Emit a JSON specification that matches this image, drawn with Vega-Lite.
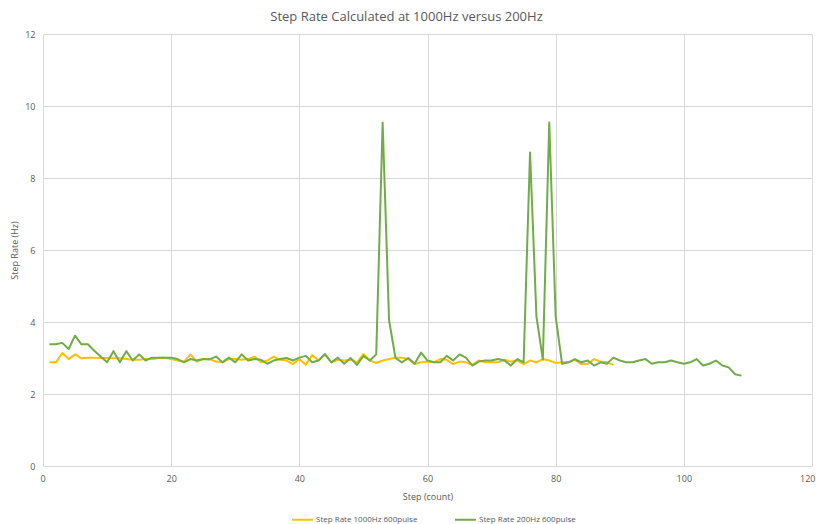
{
  "$schema": "https://vega.github.io/schema/vega-lite/v6.json",
  "width": 769,
  "height": 432,
  "autosize": {"type": "none"},
  "padding": {"left": 43, "top": 34, "right": 4, "bottom": 58},
  "background": "white",
  "title": {
    "text": "Step Rate Calculated at 1000Hz versus 200Hz",
    "font": "Open Sans",
    "fontSize": 13,
    "fontWeight": "normal",
    "color": "#595959",
    "anchor": "middle",
    "dx": -21,
    "offset": 6
  },
  "data": {
    "values": [
      {"step":1,"Step Rate 1000Hz 600pulse":2.88,"Step Rate 200Hz 600pulse":3.38},
      {"step":2,"Step Rate 1000Hz 600pulse":2.88,"Step Rate 200Hz 600pulse":3.38},
      {"step":3,"Step Rate 1000Hz 600pulse":3.14,"Step Rate 200Hz 600pulse":3.42},
      {"step":4,"Step Rate 1000Hz 600pulse":2.97,"Step Rate 200Hz 600pulse":3.25},
      {"step":5,"Step Rate 1000Hz 600pulse":3.1,"Step Rate 200Hz 600pulse":3.62},
      {"step":6,"Step Rate 1000Hz 600pulse":2.99,"Step Rate 200Hz 600pulse":3.38},
      {"step":7,"Step Rate 1000Hz 600pulse":3.01,"Step Rate 200Hz 600pulse":3.38},
      {"step":8,"Step Rate 1000Hz 600pulse":3.01,"Step Rate 200Hz 600pulse":3.2},
      {"step":9,"Step Rate 1000Hz 600pulse":3.0,"Step Rate 200Hz 600pulse":3.04},
      {"step":10,"Step Rate 1000Hz 600pulse":3.0,"Step Rate 200Hz 600pulse":2.88},
      {"step":11,"Step Rate 1000Hz 600pulse":2.99,"Step Rate 200Hz 600pulse":3.19},
      {"step":12,"Step Rate 1000Hz 600pulse":2.99,"Step Rate 200Hz 600pulse":2.88},
      {"step":13,"Step Rate 1000Hz 600pulse":2.97,"Step Rate 200Hz 600pulse":3.19},
      {"step":14,"Step Rate 1000Hz 600pulse":2.95,"Step Rate 200Hz 600pulse":2.93},
      {"step":15,"Step Rate 1000Hz 600pulse":2.95,"Step Rate 200Hz 600pulse":3.1},
      {"step":16,"Step Rate 1000Hz 600pulse":2.97,"Step Rate 200Hz 600pulse":2.93},
      {"step":17,"Step Rate 1000Hz 600pulse":2.97,"Step Rate 200Hz 600pulse":3.01},
      {"step":18,"Step Rate 1000Hz 600pulse":3.0,"Step Rate 200Hz 600pulse":3.01},
      {"step":19,"Step Rate 1000Hz 600pulse":3.01,"Step Rate 200Hz 600pulse":3.01},
      {"step":20,"Step Rate 1000Hz 600pulse":2.97,"Step Rate 200Hz 600pulse":3.01},
      {"step":21,"Step Rate 1000Hz 600pulse":2.93,"Step Rate 200Hz 600pulse":2.97},
      {"step":22,"Step Rate 1000Hz 600pulse":2.9,"Step Rate 200Hz 600pulse":2.88},
      {"step":23,"Step Rate 1000Hz 600pulse":3.1,"Step Rate 200Hz 600pulse":2.97},
      {"step":24,"Step Rate 1000Hz 600pulse":2.9,"Step Rate 200Hz 600pulse":2.93},
      {"step":25,"Step Rate 1000Hz 600pulse":2.97,"Step Rate 200Hz 600pulse":2.97},
      {"step":26,"Step Rate 1000Hz 600pulse":2.97,"Step Rate 200Hz 600pulse":2.96},
      {"step":27,"Step Rate 1000Hz 600pulse":2.9,"Step Rate 200Hz 600pulse":3.04},
      {"step":28,"Step Rate 1000Hz 600pulse":2.88,"Step Rate 200Hz 600pulse":2.88},
      {"step":29,"Step Rate 1000Hz 600pulse":2.97,"Step Rate 200Hz 600pulse":3.01},
      {"step":30,"Step Rate 1000Hz 600pulse":2.97,"Step Rate 200Hz 600pulse":2.88},
      {"step":31,"Step Rate 1000Hz 600pulse":2.95,"Step Rate 200Hz 600pulse":3.1},
      {"step":32,"Step Rate 1000Hz 600pulse":2.97,"Step Rate 200Hz 600pulse":2.93},
      {"step":33,"Step Rate 1000Hz 600pulse":3.04,"Step Rate 200Hz 600pulse":2.97},
      {"step":34,"Step Rate 1000Hz 600pulse":2.88,"Step Rate 200Hz 600pulse":2.95},
      {"step":35,"Step Rate 1000Hz 600pulse":2.93,"Step Rate 200Hz 600pulse":2.84},
      {"step":36,"Step Rate 1000Hz 600pulse":3.04,"Step Rate 200Hz 600pulse":2.93},
      {"step":37,"Step Rate 1000Hz 600pulse":2.95,"Step Rate 200Hz 600pulse":2.97},
      {"step":38,"Step Rate 1000Hz 600pulse":2.93,"Step Rate 200Hz 600pulse":3.0},
      {"step":39,"Step Rate 1000Hz 600pulse":2.83,"Step Rate 200Hz 600pulse":2.93},
      {"step":40,"Step Rate 1000Hz 600pulse":2.97,"Step Rate 200Hz 600pulse":3.01},
      {"step":41,"Step Rate 1000Hz 600pulse":2.81,"Step Rate 200Hz 600pulse":3.06},
      {"step":42,"Step Rate 1000Hz 600pulse":3.08,"Step Rate 200Hz 600pulse":2.88},
      {"step":43,"Step Rate 1000Hz 600pulse":2.93,"Step Rate 200Hz 600pulse":2.93},
      {"step":44,"Step Rate 1000Hz 600pulse":3.1,"Step Rate 200Hz 600pulse":3.11},
      {"step":45,"Step Rate 1000Hz 600pulse":2.88,"Step Rate 200Hz 600pulse":2.88},
      {"step":46,"Step Rate 1000Hz 600pulse":2.95,"Step Rate 200Hz 600pulse":3.01},
      {"step":47,"Step Rate 1000Hz 600pulse":2.93,"Step Rate 200Hz 600pulse":2.84},
      {"step":48,"Step Rate 1000Hz 600pulse":2.95,"Step Rate 200Hz 600pulse":3.0},
      {"step":49,"Step Rate 1000Hz 600pulse":2.88,"Step Rate 200Hz 600pulse":2.81},
      {"step":50,"Step Rate 1000Hz 600pulse":3.11,"Step Rate 200Hz 600pulse":3.06},
      {"step":51,"Step Rate 1000Hz 600pulse":2.93,"Step Rate 200Hz 600pulse":2.93},
      {"step":52,"Step Rate 1000Hz 600pulse":2.86,"Step Rate 200Hz 600pulse":3.1},
      {"step":53,"Step Rate 1000Hz 600pulse":2.93,"Step Rate 200Hz 600pulse":9.54},
      {"step":54,"Step Rate 1000Hz 600pulse":2.97,"Step Rate 200Hz 600pulse":4.05},
      {"step":55,"Step Rate 1000Hz 600pulse":3.01,"Step Rate 200Hz 600pulse":3.0},
      {"step":56,"Step Rate 1000Hz 600pulse":3.01,"Step Rate 200Hz 600pulse":2.88},
      {"step":57,"Step Rate 1000Hz 600pulse":2.97,"Step Rate 200Hz 600pulse":3.0},
      {"step":58,"Step Rate 1000Hz 600pulse":2.83,"Step Rate 200Hz 600pulse":2.84},
      {"step":59,"Step Rate 1000Hz 600pulse":2.88,"Step Rate 200Hz 600pulse":3.15},
      {"step":60,"Step Rate 1000Hz 600pulse":2.9,"Step Rate 200Hz 600pulse":2.93},
      {"step":61,"Step Rate 1000Hz 600pulse":2.88,"Step Rate 200Hz 600pulse":2.88},
      {"step":62,"Step Rate 1000Hz 600pulse":2.97,"Step Rate 200Hz 600pulse":2.88},
      {"step":63,"Step Rate 1000Hz 600pulse":2.95,"Step Rate 200Hz 600pulse":3.06},
      {"step":64,"Step Rate 1000Hz 600pulse":2.83,"Step Rate 200Hz 600pulse":2.93},
      {"step":65,"Step Rate 1000Hz 600pulse":2.9,"Step Rate 200Hz 600pulse":3.1},
      {"step":66,"Step Rate 1000Hz 600pulse":2.88,"Step Rate 200Hz 600pulse":3.01},
      {"step":67,"Step Rate 1000Hz 600pulse":2.81,"Step Rate 200Hz 600pulse":2.79},
      {"step":68,"Step Rate 1000Hz 600pulse":2.93,"Step Rate 200Hz 600pulse":2.9},
      {"step":69,"Step Rate 1000Hz 600pulse":2.88,"Step Rate 200Hz 600pulse":2.93},
      {"step":70,"Step Rate 1000Hz 600pulse":2.88,"Step Rate 200Hz 600pulse":2.93},
      {"step":71,"Step Rate 1000Hz 600pulse":2.88,"Step Rate 200Hz 600pulse":2.97},
      {"step":72,"Step Rate 1000Hz 600pulse":2.95,"Step Rate 200Hz 600pulse":2.93},
      {"step":73,"Step Rate 1000Hz 600pulse":2.9,"Step Rate 200Hz 600pulse":2.79},
      {"step":74,"Step Rate 1000Hz 600pulse":2.93,"Step Rate 200Hz 600pulse":2.97},
      {"step":75,"Step Rate 1000Hz 600pulse":2.83,"Step Rate 200Hz 600pulse":2.88},
      {"step":76,"Step Rate 1000Hz 600pulse":2.93,"Step Rate 200Hz 600pulse":8.71},
      {"step":77,"Step Rate 1000Hz 600pulse":2.88,"Step Rate 200Hz 600pulse":4.15},
      {"step":78,"Step Rate 1000Hz 600pulse":2.97,"Step Rate 200Hz 600pulse":2.96},
      {"step":79,"Step Rate 1000Hz 600pulse":2.93,"Step Rate 200Hz 600pulse":9.54},
      {"step":80,"Step Rate 1000Hz 600pulse":2.86,"Step Rate 200Hz 600pulse":4.15},
      {"step":81,"Step Rate 1000Hz 600pulse":2.88,"Step Rate 200Hz 600pulse":2.84},
      {"step":82,"Step Rate 1000Hz 600pulse":2.88,"Step Rate 200Hz 600pulse":2.88},
      {"step":83,"Step Rate 1000Hz 600pulse":2.95,"Step Rate 200Hz 600pulse":2.97},
      {"step":84,"Step Rate 1000Hz 600pulse":2.83,"Step Rate 200Hz 600pulse":2.88},
      {"step":85,"Step Rate 1000Hz 600pulse":2.84,"Step Rate 200Hz 600pulse":2.93},
      {"step":86,"Step Rate 1000Hz 600pulse":2.97,"Step Rate 200Hz 600pulse":2.79},
      {"step":87,"Step Rate 1000Hz 600pulse":2.9,"Step Rate 200Hz 600pulse":2.88},
      {"step":88,"Step Rate 1000Hz 600pulse":2.88,"Step Rate 200Hz 600pulse":2.84},
      {"step":89,"Step Rate 1000Hz 600pulse":2.81,"Step Rate 200Hz 600pulse":3.01},
      {"step":90,"Step Rate 200Hz 600pulse":2.93},
      {"step":91,"Step Rate 200Hz 600pulse":2.88},
      {"step":92,"Step Rate 200Hz 600pulse":2.88},
      {"step":93,"Step Rate 200Hz 600pulse":2.93},
      {"step":94,"Step Rate 200Hz 600pulse":2.97},
      {"step":95,"Step Rate 200Hz 600pulse":2.84},
      {"step":96,"Step Rate 200Hz 600pulse":2.88},
      {"step":97,"Step Rate 200Hz 600pulse":2.88},
      {"step":98,"Step Rate 200Hz 600pulse":2.93},
      {"step":99,"Step Rate 200Hz 600pulse":2.88},
      {"step":100,"Step Rate 200Hz 600pulse":2.84},
      {"step":101,"Step Rate 200Hz 600pulse":2.88},
      {"step":102,"Step Rate 200Hz 600pulse":2.97},
      {"step":103,"Step Rate 200Hz 600pulse":2.79},
      {"step":104,"Step Rate 200Hz 600pulse":2.84},
      {"step":105,"Step Rate 200Hz 600pulse":2.93},
      {"step":106,"Step Rate 200Hz 600pulse":2.79},
      {"step":107,"Step Rate 200Hz 600pulse":2.74},
      {"step":108,"Step Rate 200Hz 600pulse":2.55},
      {"step":109,"Step Rate 200Hz 600pulse":2.51}
    ]
  },
  "transform": [
    {"fold": ["Step Rate 1000Hz 600pulse", "Step Rate 200Hz 600pulse"], "as": ["series", "rate"]},
    {"filter": "isValid(datum.rate)"}
  ],
  "mark": {"type": "line", "strokeWidth": 2, "strokeJoin": "round", "interpolate": "linear"},
  "encoding": {
    "x": {
      "field": "step", "type": "quantitative",
      "scale": {"domain": [0, 120], "nice": false},
      "axis": {"values": [0, 20, 40, 60, 80, 100, 120], "title": "Step (count)", "titlePadding": 9, "labelFlush": true, "labelFlushOffset": 3}
    },
    "y": {
      "field": "rate", "type": "quantitative",
      "scale": {"domain": [0, 12], "nice": false},
      "axis": {"values": [0, 2, 4, 6, 8, 10, 12], "title": "Step Rate (Hz)", "titlePadding": 5, "labelFlush": false}
    },
    "color": {
      "field": "series", "type": "nominal",
      "scale": {"domain": ["Step Rate 1000Hz 600pulse", "Step Rate 200Hz 600pulse"], "range": ["#FFC000", "#70AD47"]},
      "legend": {
        "orient": "none", "legendX": 248, "legendY": 474, "direction": "horizontal", "title": null,
        "symbolType": "stroke", "symbolStrokeWidth": 2, "symbolSize": 441,
        "labelFont": "Open Sans", "labelFontSize": 8, "labelColor": "#595959",
        "labelOffset": 2, "columnPadding": 33
      }
    }
  },
  "config": {
    "view": {"stroke": null},
    "axis": {
      "domain": false, "ticks": false,
      "gridColor": "#d9d9d9", "gridWidth": 1,
      "labelFont": "Open Sans", "labelFontSize": 9, "labelColor": "#595959",
      "titleFont": "Open Sans", "titleFontSize": 9, "titleFontWeight": "normal", "titleColor": "#595959",
      "labelPadding": 8
    }
  }
}
